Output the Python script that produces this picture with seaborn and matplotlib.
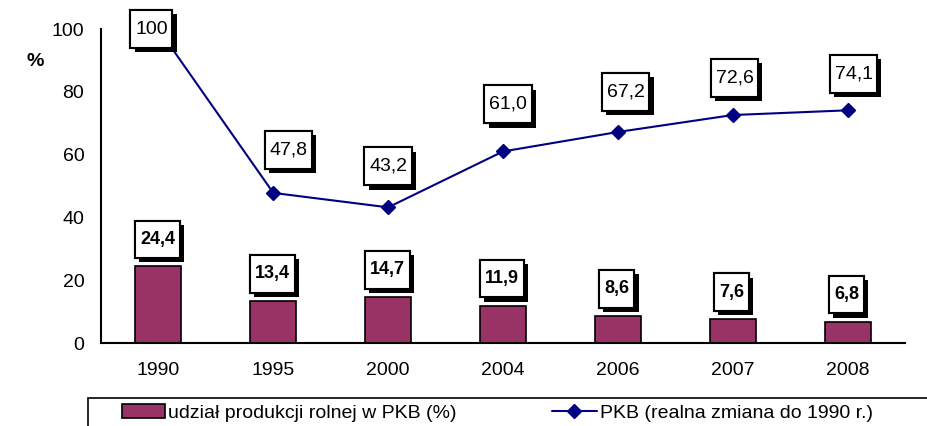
import numpy as np
import pandas as pd
import seaborn as sns
import matplotlib.pyplot as plt
import matplotlib.patheffects as pe
from matplotlib.patches import Patch, Rectangle
from matplotlib.lines import Line2D
from matplotlib.path import Path

years = ["1990", "1995", "2000", "2004", "2006", "2007", "2008"]
share_agri = [24.4, 13.4, 14.7, 11.9, 8.6, 7.6, 6.8]
pkb_change = [100, 47.8, 43.2, 61.0, 67.2, 72.6, 74.1]
share_labels = ["24,4", "13,4", "14,7", "11,9", "8,6", "7,6", "6,8"]
pkb_labels = ["100", "47,8", "43,2", "61,0", "67,2", "72,6", "74,1"]

bar_color = "#993366"
line_color = "#000080"

sns.set_style("white", rc={"text.color": "black", "xtick.color": "black",
                           "ytick.color": "black", "axes.edgecolor": "black"})
plt.rcParams["font.family"] = ["Liberation Sans", "DejaVu Sans"]

df = pd.DataFrame({"rok": years, "udzial": share_agri, "pkb": pkb_change})

fig = plt.figure(figsize=(9.28, 4.26), dpi=100)
ax = fig.add_axes([101 / 928, 83 / 426, 804 / 928, 314 / 426])

sns.barplot(data=df, x="rok", y="udzial", color=bar_color, width=0.4,
            edgecolor="black", linewidth=1.2, saturation=1, ax=ax, zorder=2)
ax.plot(np.arange(len(years)), df["pkb"], color=line_color, lw=1.5,
        marker="D", markersize=7, zorder=3)

ax.set_xlim(-0.5, len(years) - 0.5)
ax.set_ylim(0, 100)
ax.set_yticks([0, 20, 40, 60, 80, 100])
ax.set_xlabel("")
ax.set_ylabel("")
ax.tick_params(axis="y", direction="inout", length=10, width=1.2, labelsize=14,
               pad=7, colors="black")
ax.tick_params(axis="x", which="major", length=0, labelsize=14, pad=14,
               colors="black")
ax.set_xticks(np.arange(-0.5, len(years)), minor=True)
ax.tick_params(axis="x", which="minor", direction="inout", length=10, width=1.2,
               colors="black")
for s in ["top", "right"]:
    ax.spines[s].set_visible(False)
for s in ["left", "bottom"]:
    ax.spines[s].set_linewidth(1.5)
    ax.spines[s].set_color("black")

fig.text(35 / 928, 1 - 62 / 426, "%", fontsize=14, fontweight="bold",
         ha="center", va="center")

px = 0.72  # points per pixel at dpi 100


def make_box(padx, pady):
    # rectangular box with separate horizontal / vertical padding
    def box(x0, y0, width, height, mutation_size):
        px_ = padx * mutation_size
        py_ = pady * mutation_size
        x1, y1 = x0 - px_, y0 - py_
        x2, y2 = x0 + width + px_, y0 + height + py_
        return Path([(x1, y1), (x2, y1), (x2, y2), (x1, y2), (x1, y1)], closed=True)
    return box


shadow = [pe.withSimplePatchShadow(offset=(3, -3), shadow_rgbFace="black", alpha=1),
          pe.Normal()]


def boxed(x, y, txt, dx, dy, bold):
    size = 13 if bold else 14
    style = make_box(0.28, 0.57) if bold else make_box(0.24, 0.54)
    ax.annotate(txt, (x, y), xytext=(dx * px, dy * px), xycoords="data",
                textcoords="offset points", ha="center", va="center",
                fontsize=size, fontweight="bold" if bold else "normal",
                color="black", zorder=6,
                bbox=dict(boxstyle=style, fc="white", ec="black", lw=1.5,
                          path_effects=shadow))


# label offsets in pixels (box centre relative to point)
pkb_dx = [-7, 15, 0, 5, 8, 2, 6]
pkb_dy = [0, 43, 41, 47, 40, 37, 36]
for i, (v, t) in enumerate(zip(pkb_change, pkb_labels)):
    boxed(i, v, t, pkb_dx[i], pkb_dy[i], False)
for i, (v, t) in enumerate(zip(share_agri, share_labels)):
    boxed(i, v, t, -1, 27, True)

# legend frame (cut off by figure edge like the reference)
fig.patches.append(Rectangle((88 / 928, -20 / 426), 860 / 928, 48 / 426,
                             transform=fig.transFigure, fill=False,
                             edgecolor="black", lw=1.2))
leg_y = 1 - 413 / 426
fig.legend([Patch(facecolor=bar_color, edgecolor="black", linewidth=1.2)],
           ["udział produkcji rolnej w PKB (%)"], loc="center left",
           bbox_to_anchor=(122 / 928, leg_y), frameon=False, fontsize=14,
           borderpad=0, borderaxespad=0, handlelength=2.2, handletextpad=0.15)
fig.legend([Line2D([0], [0], color=line_color, lw=1.5, marker="D", markersize=7)],
           ["PKB (realna zmiana do 1990 r.)"], loc="center left",
           bbox_to_anchor=(552 / 928, leg_y), frameon=False, fontsize=14,
           borderpad=0, borderaxespad=0, handlelength=2.3, handletextpad=0.15)

fig.savefig("out.png", dpi=100)
